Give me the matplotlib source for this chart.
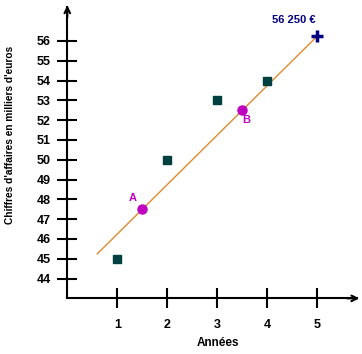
import numpy as np
import matplotlib
matplotlib.use("Agg")
import matplotlib.pyplot as plt

# data
annees = [1, 2, 3, 4]
chiffres = [45, 50, 53, 54]
pts_x = [1.5, 3.5]
pts_y = [47.5, 52.5]
pts_lab = ["A", "B"]
prev_x = 5
prev_y = 56.25
prev_lab = "56 250 \u20ac"
droite_x = [0.6, 5]

x_ticks = [1, 2, 3, 4, 5]
y_ticks = list(range(44, 57))

plt.rcParams['font.family'] = ['Liberation Sans', 'DejaVu Sans']
plt.rcParams['font.weight'] = 'bold'

fig = plt.figure(figsize=(3.62, 3.54), dpi=100)
ax = fig.add_axes([0, 0, 1, 1])
ax.set_xlim(-1.346, 5.894)
ax.set_ylim(40.19, 58.07)
ax.patch.set_alpha(0)

# droite d'ajustement y = 2.5x + 43.75 through A and B
a = (pts_y[1] - pts_y[0]) / (pts_x[1] - pts_x[0])
b = pts_y[0] - a * pts_x[0]
dx = np.array(droite_x)
ax.plot(dx, a * dx + b, color='#E08A2E', lw=1, zorder=2)

ax.plot(annees, chiffres, 's', color='#004040', ms=6, zorder=3)
ax.plot(pts_x, pts_y, 'o', color='#C000C0', ms=6.5, zorder=4)
ax.plot(prev_x, prev_y, '+', color='#000080', ms=8, mew=2.5, zorder=5)

ax.text(pts_x[0] - 0.2, pts_y[0] + 0.55, pts_lab[0], color='#C000C0',
        fontsize=8, ha='center', va='center')
ax.text(pts_x[1] + 0.08, pts_y[1] - 0.5, pts_lab[1], color='#C000C0',
        fontsize=8, ha='center', va='center')
ax.text(4.53, 57.06, prev_lab, color='#000080', fontsize=8,
        ha='center', va='center')

# axes
for s in ['top', 'right']:
    ax.spines[s].set_visible(False)
ax.spines['left'].set_position(('data', 0))
ax.spines['bottom'].set_position(('data', 43))
ax.spines['left'].set_bounds(43, 57.7)
ax.spines['bottom'].set_bounds(0, 5.8)
ax.spines['left'].set_linewidth(1.5)
ax.spines['bottom'].set_linewidth(1.5)
ax.annotate('', xy=(0, 57.8), xytext=(0, 57.2),
            arrowprops=dict(arrowstyle='->', lw=1.5, color='black',
                            shrinkA=0, shrinkB=0))
ax.annotate('', xy=(5.84, 43), xytext=(5.6, 43),
            arrowprops=dict(arrowstyle='->', lw=1.5, color='black',
                            shrinkA=0, shrinkB=0))

ax.set_xticks(x_ticks)
ax.set_yticks(y_ticks)
ax.tick_params(direction='inout', length=14, width=1.5, labelsize=9)
ax.tick_params(axis='x', pad=8)
ax.tick_params(axis='y', pad=5)

ax.text(3.02, 40.75, "Ann\u00e9es", fontsize=8.5, ha='center', va='center')
fig.text(10 / 362, 1 - 135 / 354, "Chiffres d'affaires en milliers d'euros",
         rotation=90, fontsize=7.3, ha='center', va='center')

fig.savefig('out.png', dpi=100)
